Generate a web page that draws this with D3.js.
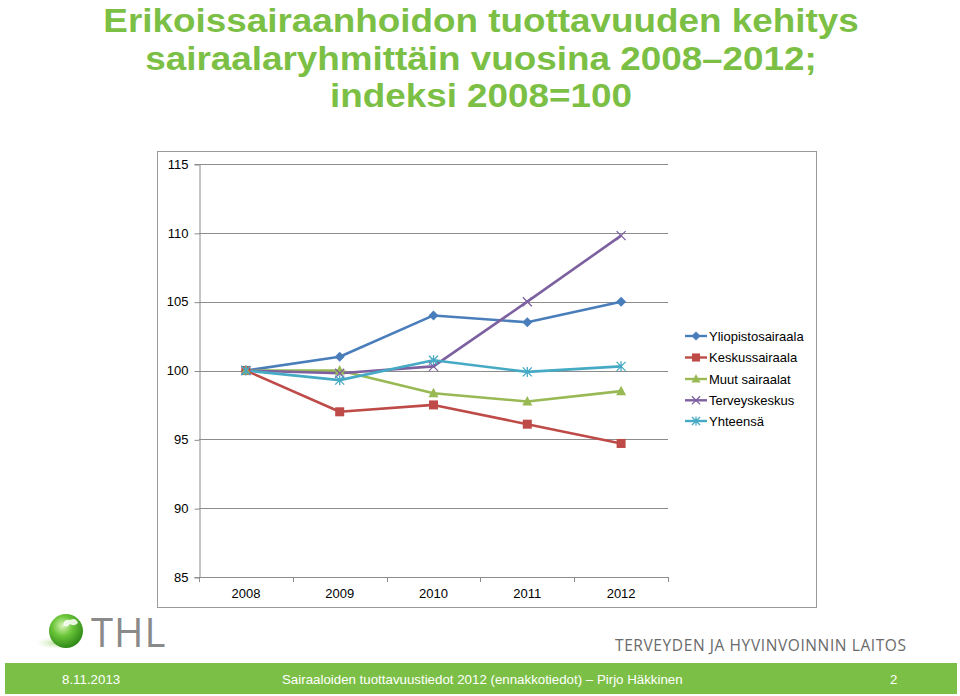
<!DOCTYPE html>
<html><head><meta charset="utf-8">
<script src="https://cdn.jsdelivr.net/npm/d3@7"></script>
<style>
html,body{margin:0;padding:0;background:#fff;}
svg{display:block;font-family:"Liberation Sans",Arial,sans-serif;}
</style></head>
<body>
<svg id="c" width="960" height="696"></svg>
<script>
const years = ["2008","2009","2010","2011","2012"];
const yTicks = [85,90,95,100,105,110,115];
const seriesNames = ["Yliopistosairaala","Keskussairaala","Muut sairaalat","Terveyskeskus","Yhteensä"];
const yliopisto = [100, 101.0, 104.0, 103.5, 105.0];
const keskus = [100, 97.0, 97.5, 96.1, 94.7];
const muut = [100, 100.0, 98.35, 97.75, 98.5];
const terveys = [100, 99.8, 100.3, 105.0, 109.8];
const yhteensa = [100, 99.3, 100.75, 99.9, 100.3];
const colors = ["#4A7EBB","#BE4B48","#98B954","#7D60A0","#46AAC5"];
const markers = ["diamond","square","triangle","x","star"];
const titleLines = ["Erikoissairaanhoidon tuottavuuden kehitys","sairaalaryhmittäin vuosina 2008–2012;","indeksi 2008=100"];

const series = [yliopisto, keskus, muut, terveys, yhteensa].map((v,i)=>({name:seriesNames[i], values:v, color:colors[i], marker:markers[i]}));

const svg = d3.select("#c");
const green = "#7BBF45";

// Title (slightly widened glyphs)
svg.append("g").attr("transform","translate(481,0) scale(1.1,1)")
  .selectAll("text").data(titleLines).join("text")
  .attr("x", 0).attr("y",(d,i)=>32+i*37.6)
  .attr("text-anchor","middle").attr("fill",green)
  .attr("font-size",33.5).attr("font-weight","bold").text(d=>d);

// Outer frame
svg.append("rect").attr("x",157.5).attr("y",151.5).attr("width",659).attr("height",456)
  .attr("fill","none").attr("stroke","#9a9a9a").attr("stroke-width",1);

const x = d3.scaleBand().domain(years).range([199,668]);
const y = d3.scaleLinear().domain([85,115]).range([577,164]);

// gridlines
svg.append("g").selectAll("line").data(yTicks.filter(t=>t!==85)).join("line")
  .attr("x1",199).attr("x2",668).attr("y1",d=>Math.round(y(d))+0.5).attr("y2",d=>Math.round(y(d))+0.5)
  .attr("stroke","#8c8c8c").attr("stroke-width",1);

// y axis
const yAxis = svg.append("g").attr("transform","translate(199.5,0)")
  .call(d3.axisLeft(y).tickValues(yTicks).tickSize(5).tickPadding(6).tickFormat(d3.format("d")));
yAxis.selectAll("path,line").attr("stroke","#8c8c8c");
yAxis.selectAll("text").attr("font-size",13).attr("fill","#000").attr("font-family","Liberation Sans, Arial, sans-serif");
yAxis.selectAll(".tick line").attr("transform","translate(0,0.5)");

// x axis
const xAxis = svg.append("g").attr("transform","translate(0,577.5)")
  .call(d3.axisBottom(x).tickSize(0).tickPadding(11));
xAxis.select("path").attr("stroke","#8c8c8c").attr("d","M199,0H668");
xAxis.selectAll("text").attr("font-size",13).attr("fill","#000").attr("font-family","Liberation Sans, Arial, sans-serif");
// category separators
svg.append("g").selectAll("line").data(d3.range(6)).join("line")
  .attr("x1",i=>Math.round(199+i*x.step())+0.5).attr("x2",i=>Math.round(199+i*x.step())+0.5)
  .attr("y1",577).attr("y2",582).attr("stroke","#8c8c8c");

function drawMarker(g, type, color, s){
  s = s||1;
  if(type==="diamond"){
    g.append("path").attr("d",`M0,${-5*s}L${5*s},0L0,${5*s}L${-5*s},0Z`).attr("fill",color);
  } else if(type==="square"){
    g.append("rect").attr("x",-4.5*s).attr("y",-4.5*s).attr("width",9*s).attr("height",9*s).attr("fill",color);
  } else if(type==="triangle"){
    g.append("path").attr("d",`M0,${-5.5*s}L${5*s},${4*s}L${-5*s},${4*s}Z`).attr("fill",color);
  } else if(type==="x"){
    g.append("path").attr("d",`M${-4.5*s},${-4.5*s}L${4.5*s},${4.5*s}M${-4.5*s},${4.5*s}L${4.5*s},${-4.5*s}`).attr("stroke",color).attr("stroke-width",1.3).attr("fill","none");
  } else if(type==="star"){
    g.append("path").attr("d",`M${-4.5*s},${-4.5*s}L${4.5*s},${4.5*s}M${-4.5*s},${4.5*s}L${4.5*s},${-4.5*s}M0,${-5*s}L0,${5*s}`).attr("stroke",color).attr("stroke-width",1.3).attr("fill","none");
  }
}

const cx = d => x(d)+x.bandwidth()/2;
const line = d3.line().x((v,i)=>cx(years[i])).y(v=>y(v));

const gS = svg.append("g");
series.forEach(s=>{
  gS.append("path").datum(s.values).attr("d",line).attr("fill","none")
    .attr("stroke",s.color).attr("stroke-width",2.6).attr("stroke-linejoin","round");
});
series.forEach(s=>{
  s.values.forEach((v,i)=>{
    const g = gS.append("g").attr("transform",`translate(${cx(years[i])},${y(v)})`);
    drawMarker(g, s.marker, s.color);
  });
});

// legend
const legY = [336,357.5,379,400.3,421];
const leg = svg.append("g");
series.forEach((s,i)=>{
  const g = leg.append("g").attr("transform",`translate(0,${legY[i]})`);
  g.append("line").attr("x1",685).attr("x2",707).attr("y1",0).attr("y2",0).attr("stroke",s.color).attr("stroke-width",2.4);
  const m = g.append("g").attr("transform","translate(696,0)");
  drawMarker(m, s.marker, s.color, 0.9);
  g.append("text").attr("x",709).attr("y",4.5).attr("font-size",13).attr("fill","#000").text(s.name);
});

// THL logo
const defs = svg.append("defs");
const rg = defs.append("radialGradient").attr("id","ball").attr("cx","40%").attr("cy","35%").attr("r","65%");
rg.append("stop").attr("offset","0%").attr("stop-color","#d8f5b8");
rg.append("stop").attr("offset","45%").attr("stop-color","#6cc63a");
rg.append("stop").attr("offset","100%").attr("stop-color","#2f8a18");
const sg = defs.append("radialGradient").attr("id","shadow");
sg.append("stop").attr("offset","0%").attr("stop-color","#9fd27a").attr("stop-opacity",0.8);
sg.append("stop").attr("offset","100%").attr("stop-color","#cfe9b9").attr("stop-opacity",0);
svg.append("ellipse").attr("cx",58).attr("cy",643).attr("rx",22).attr("ry",6).attr("fill","url(#shadow)");
svg.append("circle").attr("cx",66).attr("cy",631).attr("r",17).attr("fill","url(#ball)");
svg.append("path").attr("d","M70,620 q6,-3 8,3 q-4,4 -8,1 q-3,5 -7,1 q1,-6 7,-5z").attr("fill","#ffffff").attr("opacity",0.85);
svg.append("text").attr("x",91).attr("y",647).attr("font-size",40).attr("fill","#8a8a8a")
  .attr("font-family","'Open Sans', 'Liberation Sans', sans-serif").attr("letter-spacing",1).text("THL");
svg.append("text").attr("x",615).attr("y",651).attr("font-size",15.5).attr("fill","#6a6a6a")
  .attr("font-family","'Open Sans', 'Liberation Sans', sans-serif").attr("letter-spacing",0.6)
  .text("TERVEYDEN JA HYVINVOINNIN LAITOS");

// footer band
svg.append("rect").attr("x",5).attr("y",663).attr("width",952).attr("height",31).attr("fill","#7CBF46");
const ft = svg.append("g").attr("fill","#ffffff").attr("font-size",13.3);
ft.append("text").attr("x",62).attr("y",684).text("8.11.2013");
ft.append("text").attr("x",282).attr("y",684).text("Sairaaloiden tuottavuustiedot 2012 (ennakkotiedot) –  Pirjo Häkkinen");
ft.append("text").attr("x",890).attr("y",684).text("2");
</script>
</body></html>
